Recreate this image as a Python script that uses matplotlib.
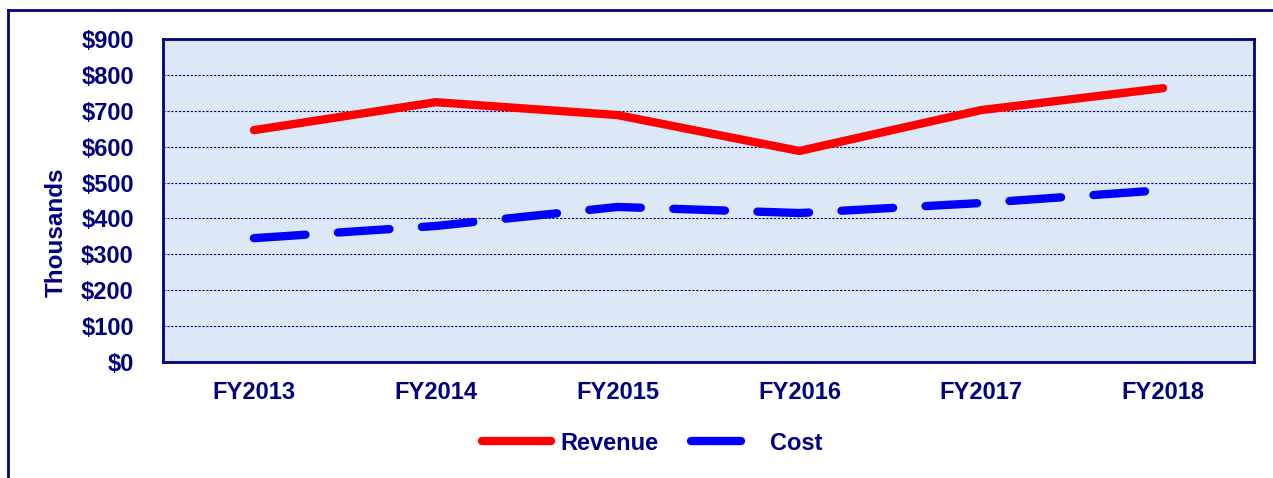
import matplotlib
matplotlib.use("Agg")
import matplotlib.pyplot as plt
from matplotlib.lines import Line2D
from matplotlib.ticker import FuncFormatter

categories = ["FY2013", "FY2014", "FY2015", "FY2016", "FY2017", "FY2018"]
revenue = [646, 724, 688, 588, 702, 763]
cost = [345, 379, 432, 415, 443, 479]
yticks = [0, 100, 200, 300, 400, 500, 600, 700, 800, 900]

navy = "#000080"
plt.rcParams['font.family'] = ['Liberation Sans', 'DejaVu Sans']
plt.rcParams['font.weight'] = 'bold'

W, H = 1273, 478
fig = plt.figure(figsize=(W / 100, H / 100), dpi=100)
ax = fig.add_axes([163 / W, 1 - 362 / H, (1254 - 163) / W, (362 - 39) / H])
ax.set_facecolor("#dce8f6")

LW = 6
DASH = (6.2, 3.9)
x = list(range(len(categories)))
ax.plot(x, revenue, color="#ff0000", lw=LW, solid_capstyle="round",
        solid_joinstyle="round", label="Revenue", zorder=3)
ax.plot(x, cost, color="#0000ff", lw=LW, dashes=DASH,
        dash_capstyle="round", label="Cost", zorder=3)

ax.set_xlim(-0.5, len(categories) - 0.5)
ax.set_ylim(0, 900)
ax.set_yticks(yticks)
ax.yaxis.set_major_formatter(FuncFormatter(lambda v, p: f"${int(v)}"))
ax.set_xticks(x)
ax.set_xticklabels(categories)
ax.tick_params(axis="both", length=0, labelsize=17, labelcolor=navy)
ax.tick_params(axis="y", pad=21)
ax.tick_params(axis="x", pad=14)
for lab in ax.get_xticklabels() + ax.get_yticklabels():
    lab.set_fontweight("bold")
ax.grid(axis="y", color=navy, linestyle=(0, (2, 1.5)), lw=0.8)
ax.set_axisbelow(True)
for s in ax.spines.values():
    s.set_color(navy)
    s.set_linewidth(2)

ax.set_ylabel("Thousands", fontsize=17.5, fontweight="bold", color=navy)
ax.yaxis.set_label_coords((68 - 163) / (1254 - 163), 1 - (232 - 39) / (362 - 39))

handles = [Line2D([0], [0], color="#ff0000", lw=LW, solid_capstyle="round"),
           Line2D([0], [0], color="#0000ff", lw=LW, dashes=(6.0, 10.0),
                  dash_capstyle="round")]
leg = fig.legend(handles, ["Revenue", "Cost"], loc="center",
                 bbox_to_anchor=(652 / W, 1 - 443 / H), ncol=2, frameon=False,
                 handlelength=2.95, columnspacing=1.35, handletextpad=0.4,
                 prop={"size": 17, "weight": "bold"})
for t in leg.get_texts():
    t.set_color(navy)

# outer frame (cut off at right and bottom)
fig.add_artist(Line2D([8 / W, 1.0], [1 - 10 / H, 1 - 10 / H],
                      transform=fig.transFigure, color=navy, lw=2))
fig.add_artist(Line2D([8 / W, 8 / W], [1 - 10 / H, 0.0],
                      transform=fig.transFigure, color=navy, lw=2))

fig.savefig("out.png", dpi=100, facecolor="white")
